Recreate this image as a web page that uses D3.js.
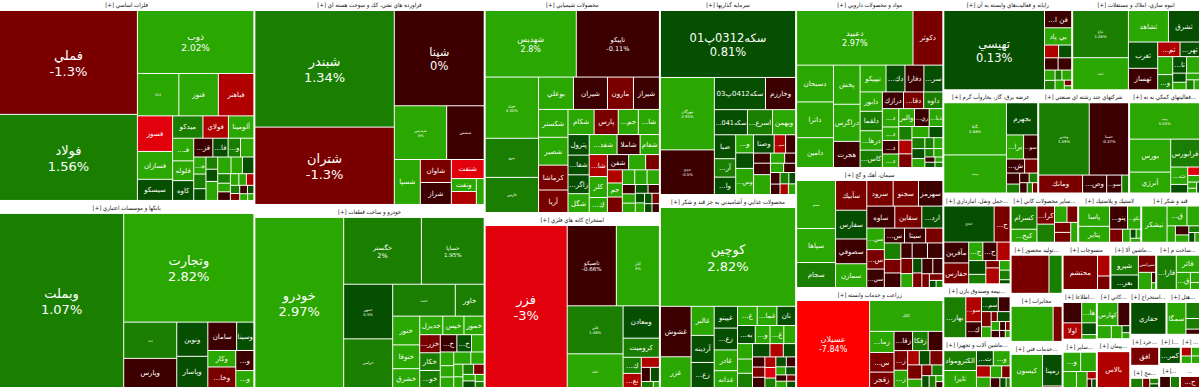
<!DOCTYPE html>
<html>
<head>
<meta charset="utf-8">
<script src="https://cdn.jsdelivr.net/npm/d3@7"></script>
<style>
  html, body { margin: 0; padding: 0; background: #fff; overflow: hidden; }
  text { font-family: "DejaVu Sans", sans-serif; }
  .head { font-family: "DejaVu Sans Condensed", "DejaVu Sans", sans-serif; }
</style>
</head>
<body>
<div id="chart"></div>
<script>
const width = 1200, height = 388;

// sectors
const sectorNames = [
  "فلزات اساسي [+]", "بانكها و موسسات اعتباري [+]", "فراورده هاي نفتي، كك و سوخت هسته اي [+]", "خودرو و ساخت قطعات [+]",
  "محصولات شيميايي [+]", "استخراج كانه هاي فلزي [+]", "سرمايه گذاريها [+]", "محصولات غذايي و آشاميدني به جز قند و شكر [+]",
  "مواد و محصولات دارويي [+]", "سيمان، آهك و گچ [+]", "زراعت و خدمات وابسته [+]", "رايانه و فعاليت‌هاي وابسته به آن [+]",
  "انبوه سازي، املاك و مستغلات [+]", "عرضه برق، گاز، بخاروآب گرم [+]", "شركتهاي چند رشته اي صنعتي [+]", "...فعاليتهاي كمكي به نه [+]",
  "...حمل ونقل، انبارداري [+]", "...بيمه وصندوق بازن [+]", "...ماشين آلات و تجهيزا [+]", "...ساير محصولات كاني [+]",
  "لاستيك و پلاستيك [+]", "قند و شكر [+]", "...توليد محصور [+]", "مخابرات [+]", "...خدمات فني [+]",
  "منسوجات [+]", "...ماشين آلا [+]", "...ساخت م [+]", "...اطلاعا [+]", "...ساير [+]", "...كاني [+]", "...پيمان [+]",
  "...استخراج [+]", "...هتل [+]", "...خرد [+]", "...مج [+]", "...ا [+]", "... [+]", "...[+]", "..."
];
const sectorCaps = [
  51750, 47700, 47600, 42100,
  37625, 30625, 26792, 26248,
  24990, 17640, 14700, 11868,
  11776, 9785, 9373, 7313,
  6100, 3620, 3350, 3320,
  3100, 2890, 2652, 2496, 2392,
  2256, 2162, 2068, 1700, 1650, 1640, 1630,
  1620, 1500, 896, 640, 630, 560, 500, 480
];

// stocks per sector, same order as sectorNames (an empty name means no label in the picture)
const stockNames = [
  ["فملي","فولاد","ذوب","٤٤٤","فنوز","فباهنر","فسوز","فسازان","سيسكو","ميدكو","فولاي","آلومينا","فـ...","فلوله","كاوه","فز...","فا...","و...","","ه..."],
  ["وبملت","وتجارت","ددد","وپارس","ونوين","وپاسار","سامان","وسينا","وكار","وخا...","و...","و..."],
  ["شبندر","شتران","شپنا","شپديس","ششش","شسپا","شاوان","شراز","شنفت","ونفت"],
  ["خودرو","خگستر","خساپا","خمهر","خزامي","ختت","خاور","خنور","خنوفا","خشرق","خديزل","خپس","خمور","خزر...","خكار","خو...","خ...","خ..."],
  ["شهديس","تاپيكو","نوري","پترو","فارس","بوعلي","شيران","مارون","شيراز","شكستر","شصير","كرماشا","آريا","شكام","پارس","جم...","شا...","پترول","شفا...","زاگر...","شگل","شفد...","شاملا","شفام","شا...","كلر","ك...","شفن","","","","جم"],
  ["فزر","تاصيكو","كپار","فلي","ززز","ومعادن","كروميت","ك...","نع..."],
  ["سكه0312پ01","مهرگان","ججج","سكه0412پ03","وخارزم","سكه041...","اسرع...","وبهمن","صبا","آر...","وا...","و...","","وس...","وصنا","سم..."],
  ["كوچين","غشوش","غزر","غالبر","آردينه","زع...","غپينو","زع...","غادر","غدانه","غ...","غما...","نان","به...","و...","غ..."],
  ["دعبيد","دكوثر","دسبحان","داترا","دامين","پخش","دراگرس","هجرت","تيپيكو","دك...","دفارا","سر...","دابور","دلقما","درها...","كاس...","درازك","دقا...","داوه","د...","د...","د...","د...","والبر","ري...","دبا..."],
  ["ممم","سپاها","سجام","سآبيك","سفارس","سصوفي","سمازن","سرود","سجنو","سهرمز","ساوه","سقاين","ارد...","سي...","س...","سي...","س...","سيتا"],
  ["عسيلان","ککک","زما...","س...","زقجر","زقا...","زفكا","","ز...","ز..."],
  ["تهيسي","فن ا...","بي پاد"],
  ["ثباغ","ثثث","ثشاهد","ثشرق","ثغرب","ثهساز","ثم...","ثهر...","","و...","تا..."],
  ["بگيلا","بببب","بجهرم","برا...","سو...","ش..."],
  ["وغدير","حستا","ومانك","وص...","سو..."],
  ["پپپ","بورس","آنرژي","فرابورس","ت..."],
  ["ححح","ح...","مآفرين","حفارس","ح...","ح..."],
  ["بهار...","سو...","ك...","سم..."],
  ["الكترومواد","تايرا","ت...","و..."],
  ["كسرام","كيخ...","كرا..."],
  ["پاسا","پتاير","پنو...","بكو..."],
  ["نيشكر","ق..."],
  [],
  [],
  ["كيسون","رمپنا"],
  ["محتشم"],
  ["شپرو","بعر...","سپرانس"],
  ["فارا...","قائر","ق..."],
  ["","ها...","اولا"],
  ["و..."],
  ["كهارس"],
  ["بالاس"],
  ["حفاري"],
  ["سمگا"],
  ["افق"],
  [],
  ["كمر..."],
  [],
  [],
  ["ح..."]
];

const stockShares = [
  [14144,11700,7192,1681,1600,1435,1188,924,693,630,525,525,437,380,380,323,255,204,221,182,154,121,121,121,195,195,165,165,100,90,90,80,70,70,60,50,50,40,40,30],
  [21156,13800,1820,1456,990,900,754,442,416,522,324,270],
  [15985,10564,8366,2704,1924,1100,660,630,576,288,288,175],
  [14960,5082,4092,2592,2304,1922,868,728,598,468,391,357,340,336,330,315,256,224,192,160,130,120,182,140,96,80,90,88,64,64,50,40],
  [5850,5330,3120,1976,1768,1054,1023,775,775,756,756,672,605,600,552,456,480,391,374,357,357,506,414,345,357,340,238,285,225,180,168,180,200,154,154,154,99,99,99,90,80,70,70,60,60,50,50],
  [12800,3744,3276,2530,1760,1085,630,255,221,153,104,104,55,25],
  [8778,3744,2288,1550,899,768,576,528,462,352,330,286,242,420,336,180,156,144,165,297,120,90,100,90,90,80,80,60,70,60],
  [12500,1400,840,588,546,504,441,441,420,336,323,323,306,272,224,208,176,192,176,176,192,144,132,99,99,100,90,90,80,80,70,60,60,50,50,40,40],
  [6264,1566,1296,1260,1044,988,936,650,650,468,468,468,396,396,396,352,320,304,288,270,195,195,195,252,234,216,156,156,156,165,132,120,108,96,80,80,60,60,40,40,30,30],
  [1786,1254,912,870,840,720,690,625,600,575,567,546,420,340,306,289,266,280,224,240,195,210,150,208,208,154,140,112,112,143,130,84,72,35,35],
  [6264,2190,476,442,342,324,270,252,238,208,143,130,160,176,99,90,98,70,64,30,30],
  [7900,432,432,156,144,143,143,90,81,54,81,72,30,20],
  [2484,1674,1170,900,702,567,286,247,234,195,196,182,99,80,70,60,40],
  [3111,2257,930,368,299,221,156,120,96,72,64,60,40,40],
  [3528,2736,731,391,238,102],
  [2380,1248,780,728,255,120,78,60,40,30,20],
  [1666,510,456,456,221,221,204,198,132,77,180,80,80,30],
  [860,364,224,224,154,126,88,48,108,60,48,40,30,30,25],
  [640,544,240,240,143,130,121,88,80,50,30],
  [528,288,272,272,169,143,132,130,110],
  [578,450,375,270,144,81,40,30,30],
  [782,324,198,104,91,72,50,40,30],
  [1368,456],
  [1320,264],
  [990,576,20],
  [1120,228,144],
  [486,351,256,192,30,18],
  [608,352,208,72,48],
  [360,280,288,154,56],
  [320,285,196,154,56,30,30],
  [448,252,162,121,42,35],
  [1152],
  [1332],
  [493,168,108,48],
  [594],
  [63,35,25,15],
  [266],
  [63,54,49,42],
  [33,27],
  [255]
];

const stockChanges = [
  [-1.3,1.56,2.02,2.5,2.5,-2.5,-4,2.5,0.5,1.5,-2.5,2.5,2.5,2.5,0.5,-0.5,0.5,1.5,2.5,2.5,1.5,0.5,1.5,0.5,2.5,2.5,2.5,0.5,1.5,2.5,-0.5,2.5,2.5,-2.5,1.5,-1.5,-0.5,0.5,2.5,2.5],
  [1.07,2.82,1.5,-0.5,0.5,0.5,-0.5,0.5,2.5,-1.5,-0.5,2.5],
  [1.34,-1.3,0,3,-0.5,2.5,-1.5,-0.5,-4,2.5,-2.5,2.5],
  [2.97,2,1.95,0.5,1.5,1.5,1.5,2.5,2.5,2.5,2.5,2.5,2.5,-1.5,1.5,1.5,-0.5,0.5,2.5,2.5,2.5,2.5,2.5,2.5,2.5,2.5,1.5,-1.5,2.5,0.5,2.5,1.5],
  [2.8,-0.11,3.45,1.5,1.5,2.5,-0.5,-1.5,-0.5,2.5,2.5,-1.5,-1.5,2.5,-1.5,2.5,2.5,0.5,0.5,0.5,2.5,2.5,-0.5,2.5,-2.5,2.5,2.5,-1,2.5,-1.5,-2.5,2.5,-1.5,2.5,2.5,2.5,-0.5,2.5,2.5,0.5,-0.5,0.5,2.5,0.5,-1.5,0.5,-0.5],
  [-3,-0.66,3,1.46,2.5,0.5,1.5,1.5,-2.5,-2.5,-0.5,0.5,1.5,2.5],
  [0.81,2.91,-0.5,0.5,-0.5,0.5,1.5,2.5,0.5,1.5,0.5,2.5,0.5,2.5,0.5,-2.5,-0.5,-0.5,-0.5,2.5,2.5,-0.5,2.5,-0.5,-0.5,-0.5,1.5,0.5,-2.5,2.5],
  [2.82,-0.5,2.5,2.5,0.5,0.5,0.5,0.5,2.5,2.5,2.5,2.5,0.5,0.5,2.5,2.5,2.5,2.5,2.5,1.5,0.5,-2.5,0.5,-0.5,-1.5,-0.5,-2.5,-4,1.5,0.5,-0.5,2.5,0.5,-0.5,2.5,-1.5,0.5],
  [2.97,-1.5,2.5,2.5,2.5,2.5,2.5,-0.5,2.5,0.5,-0.5,0.5,2.5,1.5,2.5,1.5,-0.5,-1.5,1.5,2.5,2.5,-0.8,2.5,2.5,-0.5,2.5,1.5,-2.5,-1.5,2.5,0.5,1.5,0.5,2.5,1.5,2.5,1.5,2.5,-0.5,0.5,2.5,1.5],
  [2.5,2.5,1.5,-2,0.5,-0.5,2.5,-1.5,-1.5,-0.5,-0.5,-1.5,0.5,2.5,-1.5,-0.5,-0.5,-0.5,-2,1.5,-1.5,-0.5,-0.5,-0.5,-0.5,-1.5,2.5,0.5,-1.5,-0.5,-0.5,-1.5,-1.5,0.5,1.5],
  [-7.84,2.5,2.5,-1.5,-1.5,-0.5,1.5,-0.5,-1.5,2.5,-2.5,0.5,-1.5,-1.5,2.5,-1.5,1.5,0.5,1.5,2.5,-0.5],
  [0.13,-0.5,2.5,-2.5,0.5,-0.5,-0.5,2.5,1.5,1.5,2.5,2.5,-1.5,2.5],
  [1.56,2.5,2.5,0.5,0.5,-0.5,-2.5,0.5,2.5,1.5,0.5,2.5,0.5,2.5,2.5,1.5,2.5],
  [2.88,2.5,0.5,2.5,-1,-0.5,-1.5,-0.5,1.5,-0.5,1.5,-0.5,1.5,-1.5],
  [1.39,-0.27,-1.5,-0.5,-0.5,1.5],
  [3.34,2.5,2.5,2,2.5,0.5,-4,2.5,2.5,2.5,0.5],
  [0.5,-1.5,-0.5,-1.5,2.5,-0.5,-2.5,0.5,1.5,-1.5,-2.5,2.5,1.5,0.5,1.5],
  [1.5,-2.5,-0.5,0.5,-0.5,-1.5,2.5,-1.5,0.5,2.5,-0.5,-0.5,-1.5,-0.5,2.5],
  [1.5,2.5,0.5,2.5,-2.5,2.5,2.5,-1.5,-0.5,0.5,1.5],
  [1.5,2.5,-2,1.5,2.5,-1.5,-1.5,-1.5,2.5],
  [2.5,2.5,-0.5,2.5,-1.5,2.5,0.5,2.5,2.5],
  [2.5,2.5,2.5,2.5,-0.5,2.5,1.5,0.5,2.5],
  [-1.5,1.5],
  [2.5,-1.5],
  [2.5,0.5,-1.5],
  [-1.5,-2.5,-1.5],
  [1.5,0.5,-1.5,2.5,-0.5,2.5],
  [1.5,2.5,2.5,2.5,2.5],
  [-0.5,2.5,-2.5,0.5,2.5],
  [2.5,2.5,2.5,2.5,-2.5,-0.5,0.5],
  [2.5,-0.5,2.5,2.5,0.5,2.5],
  [-2.5],
  [0.5],
  [2.5,1.5,1.5,-0.5],
  [-1.5],
  [1.5,-1.5,1.5,0.5],
  [0.5],
  [-2.5,2.5,2.5,2.5],
  [-0.5,1.5],
  [-1.5]
];

// -----------------------------
const changeColor = d3.scaleThreshold()
  .domain([-5, -2.99, -2, -1, 0.01, 1, 2.01])
  .range(["#ff0000", "#e2000c", "#b00000", "#7a0000", "#3d0000", "#064f00", "#1a7f00", "#2aa700"]);

const labelSize = d3.scaleThreshold()
  .domain([1650, 3800, 4700, 5600, 6800, 7500, 9500])
  .range([7, 3.8, 5.5, 6.5, 8, 9, 11.5, 13]);

// shares were measured without the white gap round each cell
const withGap = s => (Math.sqrt(s) + 1) ** 2;

const tree = {
  children: sectorNames.map((name, i) => {
    const total = d3.sum(stockShares[i], withGap);
    return {
      name: name,
      children: stockShares[i].map((share, j) => ({
        name: stockNames[i][j] || "",
        change: stockChanges[i][j],
        cap: withGap(share) * sectorCaps[i] / total
      }))
    };
  })
};

// no sort: the lists are already in the order of the picture
const root = d3.hierarchy(tree).sum(d => d.cap || 0);

d3.treemap()
  .tile(d3.treemapSquarify.ratio(1))
  .size([width + 1, height + 2])
  .paddingInner(d => d.depth === 1 ? 1 : 0)
  .paddingLeft(d => d.depth === 1 ? 1 : 0)
  .paddingRight(d => d.depth === 1 ? 1 : 0)
  .paddingBottom(d => d.depth === 1 ? 1 : 0)
  .paddingTop(d => d.depth === 1 ? 13 : 0)(root);

const svg = d3.select("#chart").append("svg")
  .attr("width", width)
  .attr("height", height)
  .style("display", "block");

const g = svg.append("g").attr("transform", "translate(-1,-2)");

g.selectAll(".head")
  .data(root.children)
  .join("text")
  .attr("class", "head")
  .attr("x", d => (d.x0 + d.x1) / 2)
  .attr("y", d => d.y0 + 9)
  .attr("text-anchor", "middle")
  .attr("font-size", 6)
  .attr("direction", "rtl")
  .attr("fill", "#111")
  .text(d => d.data.name)
  .each(function(d) {
    const room = d.x1 - d.x0 - 2, w = this.getComputedTextLength();
    if (w > room) d3.select(this).attr("font-size", 6 * room / w);
  });

const cells = g.selectAll(".cell")
  .data(root.leaves())
  .join("g")
  .attr("class", "cell");

cells.append("rect")
  .attr("x", d => d.x0)
  .attr("y", d => d.y0)
  .attr("width", d => Math.max(0, d.x1 - d.x0))
  .attr("height", d => Math.max(0, d.y1 - d.y0))
  .attr("fill", d => changeColor(d.data.change));

const area = d => (d.x1 - d.x0) * (d.y1 - d.y0);

cells.filter(d => d.data.name !== "").append("text")
  .attr("x", d => (d.x0 + d.x1) / 2)
  .attr("y", d => (d.y0 + d.y1) / 2 + (area(d) >= 2300 ? -labelSize(area(d)) * 0.2 : labelSize(area(d)) * 0.35))
  .attr("text-anchor", "middle")
  .attr("direction", "rtl")
  .attr("font-size", d => labelSize(area(d)))
  .attr("fill", "#fff")
  .text(d => d.data.name)
  .each(function(d) {
    const room = d.x1 - d.x0 - 1, w = this.getComputedTextLength();
    if (w > room) d3.select(this).attr("font-size", labelSize(area(d)) * room / w);
  });

cells.filter(d => area(d) >= 2300).append("text")
  .attr("x", d => (d.x0 + d.x1) / 2)
  .attr("y", d => (d.y0 + d.y1) / 2 + labelSize(area(d)) * 1.05)
  .attr("text-anchor", "middle")
  .attr("direction", "ltr")
  .attr("font-size", d => labelSize(area(d)))
  .attr("fill", "#fff")
  .text(d => d.data.change + "%");
</script>
</body>
</html>
